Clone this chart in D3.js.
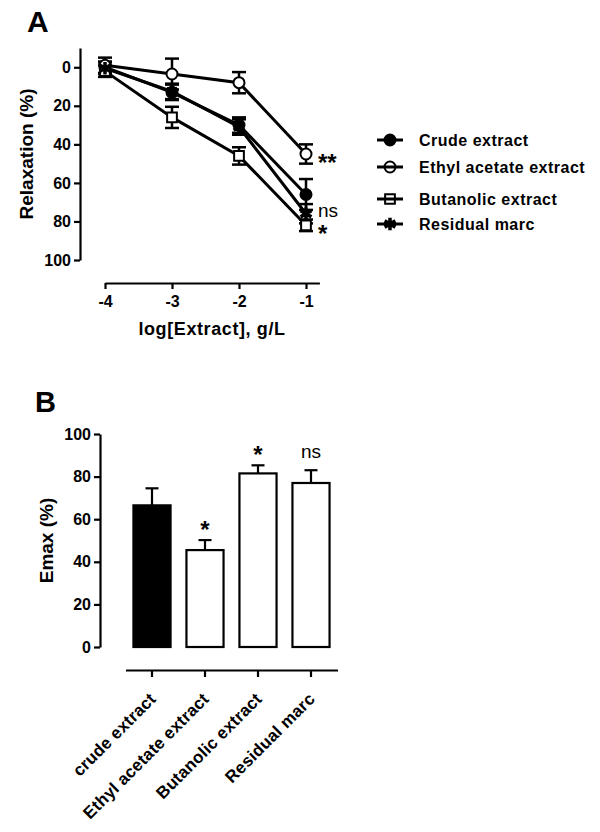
<!DOCTYPE html>
<html>
<head>
<meta charset="utf-8">
<script src="https://cdn.jsdelivr.net/npm/d3@7"></script>
<style>
  body { margin: 0; background: #fff; }
  svg { font-family: "Liberation Sans", Arial, sans-serif; }
  .axis path, .axis line { stroke: #000; stroke-width: 2.2; }
  .axis text { font-size: 16px; font-weight: bold; fill: #000; }
</style>
</head>
<body>
<div id="chart"></div>
<script>
// Panel A data: log dose, mean relaxation (%), SEM
const doses = [-4, -3, -2, -1]
const seriesNames = ["Crude extract", "Ethyl acetate extract", "Butanolic extract", "Residual marc"]
const crudeMean = [0, 13, 30, 66]
const crudeSem = [3, 4, 4, 8]
const ethylMean = [-1, 3.5, 8, 45]
const ethylSem = [4, 8, 5.5, 5]
const butanolMean = [2, 26, 46, 82]
const butanolSem = [3, 5.5, 4.5, 3]
const residualMean = [0.5, 12.5, 31, 76]
const residualSem = [3, 4, 4, 5]
const sigA = ["", "**", "*", "ns"]
const yTicksA = [0, 20, 40, 60, 80, 100]

// Panel B data: Emax
const barCategories = ["crude extract", "Ethyl acetate extract", "Butanolic extract", "Residual marc"]
const emaxMean = [66.5, 45.5, 81.5, 77]
const emaxSem = [8, 4.7, 3.8, 6]
const sigB = ["", "*", "*", "ns"]
const yTicksB = [0, 20, 40, 60, 80, 100]

const series = [
  { name: seriesNames[0], mean: crudeMean, sem: crudeSem, shape: "circle", fill: "#000", sig: sigA[0] },
  { name: seriesNames[1], mean: ethylMean, sem: ethylSem, shape: "circle", fill: "#fff", sig: sigA[1] },
  { name: seriesNames[2], mean: butanolMean, sem: butanolSem, shape: "square", fill: "#fff", sig: sigA[2] },
  { name: seriesNames[3], mean: residualMean, sem: residualSem, shape: "star", fill: "#000", sig: sigA[3] },
]

const width = 600
const height = 832

const svg = d3.select("#chart")
  .append("svg")
    .attr("width", width)
    .attr("height", height)

// ---------- Panel A ----------
svg.append("text")
    .attr("x", 27)
    .attr("y", 32)
    .attr("font-size", 30)
    .attr("font-weight", "bold")
    .text("A")

const xA = d3.scaleLinear()
  .domain([-4, -0.8])
  .range([105, 319.4])

const yA = d3.scaleLinear()
  .domain([-10, 100])
  .range([48, 260])

svg.append("g")
    .attr("class", "axis")
    .attr("transform", "translate(80,0)")
  .call(d3.axisLeft(yA).tickValues(yTicksA).tickSize(6).tickSizeOuter(0).tickPadding(3))

svg.append("g")
    .attr("class", "axis")
    .attr("transform", "translate(0,283)")
  .call(d3.axisBottom(xA).tickValues(doses).tickFormat(d => String(d)).tickSize(6).tickSizeOuter(0).tickPadding(7))

svg.append("text")
    .attr("transform", `translate(33,${(48 + 260) / 2}) rotate(-90)`)
    .attr("text-anchor", "middle")
    .attr("font-size", 19)
    .attr("font-weight", "bold")
    .text("Relaxation (%)")

svg.append("text")
    .attr("x", (105 + 319) / 2)
    .attr("y", 335)
    .attr("text-anchor", "middle")
    .attr("font-size", 18)
    .attr("font-weight", "bold")
    .attr("letter-spacing", 0.6)
    .text("log[Extract], g/L")

const symbolPath = (shape, size) => {
  if (shape === "circle") return d3.symbol().type(d3.symbolCircle).size(size)()
  if (shape === "square") return d3.symbol().type(d3.symbolSquare).size(size)()
  return d3.symbol().type(d3.symbolAsterisk).size(size)()
}

const lineGenerator = d3.line()
  .x((d, i) => xA(doses[i]))
  .y(d => yA(d))

const plotA = svg.append("g")

series.forEach(s => {
  plotA.append("path")
      .attr("d", lineGenerator(s.mean))
      .attr("fill", "none")
      .attr("stroke", "#000")
      .attr("stroke-width", 3)
})

series.forEach(s => {
  const eb = plotA.append("g")
  s.mean.forEach((m, i) => {
    const x = xA(doses[i])
    const y1 = yA(m - s.sem[i])
    const y2 = yA(m + s.sem[i])
    eb.append("line").attr("x1", x).attr("x2", x).attr("y1", y1).attr("y2", y2)
    eb.append("line").attr("x1", x - 7).attr("x2", x + 7).attr("y1", y1).attr("y2", y1)
    eb.append("line").attr("x1", x - 7).attr("x2", x + 7).attr("y1", y2).attr("y2", y2)
  })
  eb.selectAll("line").attr("stroke", "#000").attr("stroke-width", 2.5)
})

series.forEach(s => {
  plotA.selectAll(null)
    .data(s.mean)
    .join("path")
      .attr("transform", (d, i) => `translate(${xA(doses[i])},${yA(d)})`)
      .attr("d", symbolPath(s.shape, s.shape === "star" ? 110 : 95))
      .attr("fill", s.shape === "star" ? "none" : s.fill)
      .attr("stroke", "#000")
      .attr("stroke-width", s.shape === "star" ? 3.5 : 2)
})

// significance marks at the top dose
series.forEach(s => {
  if (!s.sig) return
  const last = s.mean[s.mean.length - 1]
  const isNs = s.sig === "ns"
  plotA.append("text")
      .attr("x", xA(-1) + 12)
      .attr("y", yA(last) + (isNs ? 3 : 17))
      .attr("font-size", isNs ? 19 : 24)
      .attr("font-weight", isNs ? "normal" : "bold")
      .text(s.sig)
})

// legend
const legend = svg.append("g")
    .attr("transform", "translate(377,0)")
const legendY = [140, 167, 199, 224]
series.forEach((s, i) => {
  const row = legend.append("g")
      .attr("transform", `translate(0,${legendY[i]})`)
  row.append("line")
      .attr("x1", 0).attr("x2", 26)
      .attr("stroke", "#000").attr("stroke-width", 3)
  row.append("path")
      .attr("transform", "translate(13,0)")
      .attr("d", symbolPath(s.shape, s.shape === "star" ? 110 : 95))
      .attr("fill", s.shape === "star" ? "none" : s.fill)
      .attr("stroke", "#000")
      .attr("stroke-width", s.shape === "star" ? 3.5 : 2)
  if (s.fill === "#fff") {
    row.append("line")
        .attr("x1", 7).attr("x2", 19)
        .attr("stroke", "#000").attr("stroke-width", 3)
  }
  row.append("text")
      .attr("x", 42)
      .attr("dy", "0.36em")
      .attr("font-size", 16)
      .attr("font-weight", "bold")
      .attr("letter-spacing", 0.5)
      .text(s.name)
})

// ---------- Panel B ----------
svg.append("text")
    .attr("x", 35)
    .attr("y", 412)
    .attr("font-size", 29)
    .attr("font-weight", "bold")
    .text("B")

const yB = d3.scaleLinear()
  .domain([0, 100])
  .range([647, 434])

const xB = d3.scaleBand()
  .domain(barCategories)
  .range([125.5, 337.5])
  .padding(0)

svg.append("g")
    .attr("class", "axis")
    .attr("transform", "translate(100,0)")
  .call(d3.axisLeft(yB).tickValues(yTicksB).tickSize(6).tickSizeOuter(0).tickPadding(3))

const xAxisB = svg.append("g")
    .attr("class", "axis")
    .attr("transform", "translate(0,670)")
  .call(d3.axisBottom(xB).tickSize(7).tickSizeOuter(0))

xAxisB.selectAll(".tick text")
    .attr("text-anchor", "end")
    .style("font-size", "17px")
    .attr("letter-spacing", 0.2)
    .attr("dy", null)
    .attr("y", null)
    .attr("transform", "translate(5,30) rotate(-45)")

svg.append("text")
    .attr("transform", `translate(53,${(434 + 647) / 2}) rotate(-90)`)
    .attr("text-anchor", "middle")
    .attr("font-size", 19)
    .attr("font-weight", "bold")
    .text("Emax (%)")

const barWidth = xB.bandwidth() * 0.7
const barX = d => xB(d) + (xB.bandwidth() - barWidth) / 2
const barsB = svg.append("g")

barCategories.forEach((c, i) => {
  const cx = xB(c) + xB.bandwidth() / 2
  const top = yB(emaxMean[i] + emaxSem[i])
  barsB.append("line")
      .attr("x1", cx).attr("x2", cx)
      .attr("y1", yB(emaxMean[i])).attr("y2", top)
      .attr("stroke", "#000").attr("stroke-width", 2.2)
  barsB.append("line")
      .attr("x1", cx - 6.5).attr("x2", cx + 6.5)
      .attr("y1", top).attr("y2", top)
      .attr("stroke", "#000").attr("stroke-width", 2.2)
  barsB.append("rect")
      .attr("x", barX(c))
      .attr("y", yB(emaxMean[i]))
      .attr("width", barWidth)
      .attr("height", yB(0) - yB(emaxMean[i]))
      .attr("fill", i === 0 ? "#000" : "#fff")
      .attr("stroke", "#000")
      .attr("stroke-width", 2.2)
  if (sigB[i]) {
    const isNs = sigB[i] === "ns"
    barsB.append("text")
        .attr("x", cx)
        .attr("y", top - (isNs ? 12 : 2))
        .attr("text-anchor", "middle")
        .attr("font-size", isNs ? 19 : 24)
        .attr("font-weight", isNs ? "normal" : "bold")
        .text(sigB[i])
  }
})
</script>
</body>
</html>
